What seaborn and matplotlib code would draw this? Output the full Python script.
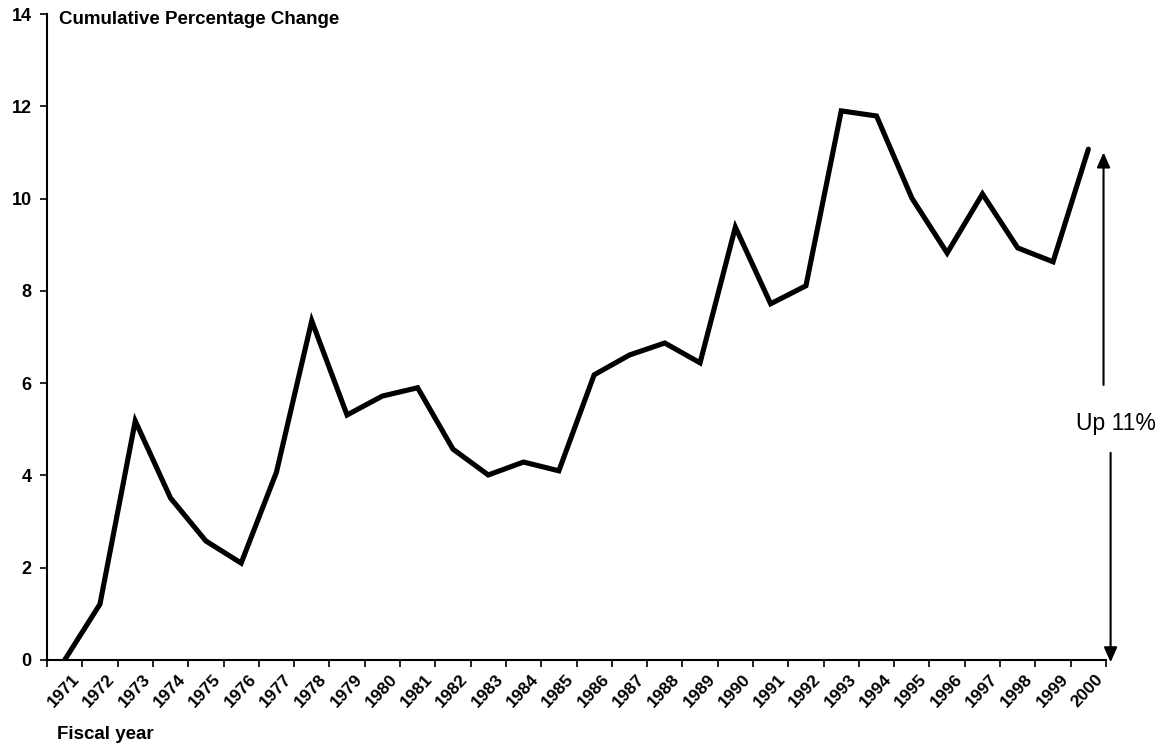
import matplotlib
matplotlib.use('Agg')
import matplotlib.pyplot as plt
import seaborn as sns
import pandas as pd

years = [str(y) for y in range(1971, 2001)]
cum_change = [0.0, 1.21, 5.18, 3.51, 2.58, 2.10, 4.07, 7.35, 5.31, 5.72,
              5.90, 4.57, 4.01, 4.29, 4.10, 6.18, 6.61, 6.87, 6.44, 9.38,
              7.72, 8.11, 11.90, 11.79, 10.01, 8.82, 10.10, 8.93, 8.63, 11.07]
y_ticks = [0, 2, 4, 6, 8, 10, 12, 14]


def make_chart():
    sns.set_style('ticks')
    plt.rcParams['font.family'] = ['Liberation Sans', 'DejaVu Sans']
    plt.rcParams['text.color'] = 'black'
    plt.rcParams['xtick.color'] = 'black'
    plt.rcParams['ytick.color'] = 'black'

    df = pd.DataFrame({'pos': range(len(years)), 'change': cum_change})

    fig = plt.figure(figsize=(11.62, 7.45), dpi=100)
    ax = fig.add_axes([47 / 1162, 1 - 660 / 745, (1106 - 47) / 1162, (660 - 14) / 745])
    sns.lineplot(data=df, x='pos', y='change', color='black', linewidth=3.7, ax=ax,
                 solid_joinstyle='miter')

    ax.set_xlim(-0.5, len(years) - 0.5)
    ax.set_ylim(0, 14)
    ax.set_yticks(y_ticks)
    ax.set_yticklabels([str(t) for t in y_ticks], fontsize=13, fontweight='bold')
    # labels sit a little right of the category centre, like the original
    ax.set_xticks([i + 0.2 for i in range(len(years))])
    ax.set_xticklabels(years, rotation=47, ha='right', va='top', rotation_mode='anchor',
                       fontsize=12.5, fontweight='bold')
    ax.set_xticks([i - 0.5 for i in range(len(years) + 1)], minor=True)
    ax.tick_params(axis='x', which='major', length=0, pad=8)
    ax.tick_params(axis='x', which='minor', length=5, width=1.2, direction='out')
    ax.tick_params(axis='y', length=5, width=1.2, direction='out', pad=6)
    ax.set_xlabel('')
    ax.set_ylabel('')
    sns.despine(ax=ax)
    for s in ['left', 'bottom']:
        ax.spines[s].set_linewidth(1.5)
        ax.spines[s].set_color('black')

    fig.text(59 / 1162, 1 - 24 / 745, 'Cumulative Percentage Change', fontsize=13.5,
             fontweight='bold', va='baseline', ha='left')
    fig.text(57 / 1162, 1 - 739 / 745, 'Fiscal year', fontsize=13.5,
             fontweight='bold', va='baseline', ha='left')

    # "Up 11%" arrows on the right
    arrow = dict(arrowstyle='-|>,head_width=0.4,head_length=0.9', color='black', lw=1.5,
                 shrinkA=0, shrinkB=0)
    ax.annotate('', xy=(29.43, 11.0), xytext=(29.43, 5.96), arrowprops=arrow,
                annotation_clip=False)
    ax.annotate('', xy=(29.63, -0.05), xytext=(29.63, 4.49), arrowprops=arrow,
                annotation_clip=False)
    fig.text(1116 / 1162, 1 - 430 / 745, 'Up 11%', fontsize=16.5, ha='center', va='baseline')

    fig.savefig('out.png', dpi=100)


if __name__ == '__main__':
    make_chart()
